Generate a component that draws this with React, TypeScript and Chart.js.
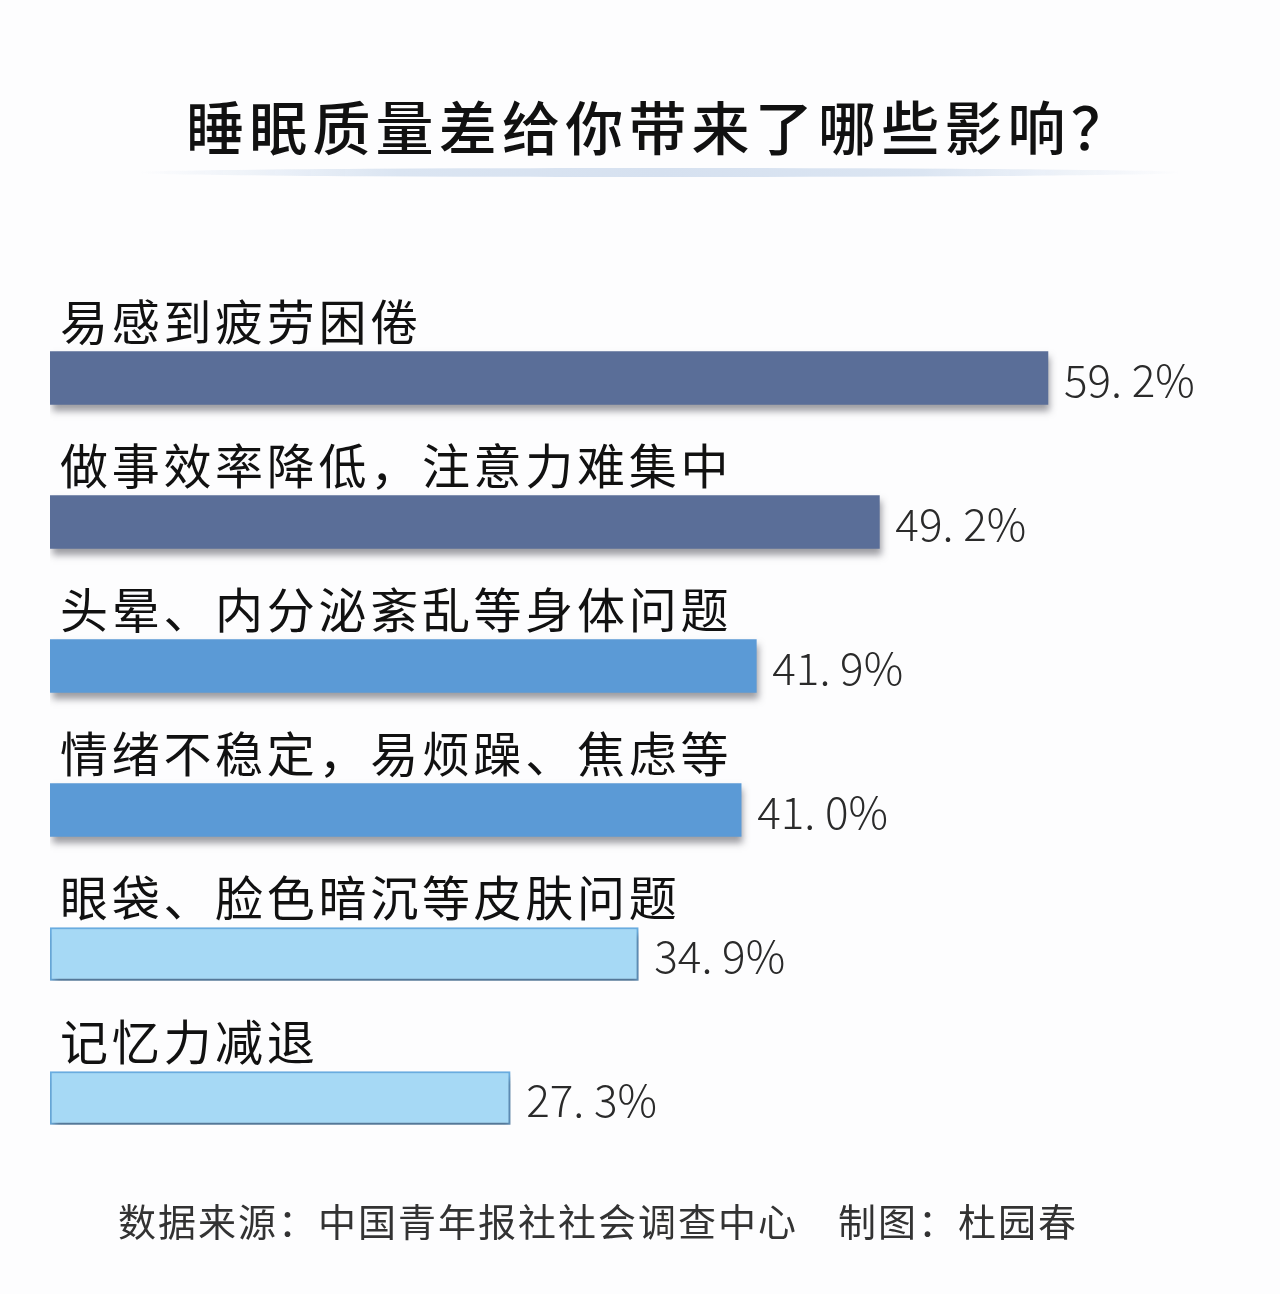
import { useEffect, useRef } from 'react';
import { Chart, registerables } from 'chart.js';

Chart.register(...registerables);

const categories = [
  '易感到疲劳困倦',
  '做事效率降低，注意力难集中',
  '头晕、内分泌紊乱等身体问题',
  '情绪不稳定，易烦躁、焦虑等',
  '眼袋、脸色暗沉等皮肤问题',
  '记忆力减退',
];
const shares = [59.2, 49.2, 41.9, 41.0, 34.9, 27.3];
const barColors = ['#5a6e98', '#5a6e98', '#5b9ad6', '#5b9ad6', '#a6d9f5', '#a6d9f5'];
const barBorders = ['#5a6e98', '#5a6e98', '#5b9ad6', '#5b9ad6', '#6aaee2', '#6aaee2'];
const borderWidths = [0, 0, 0, 0, 2, 2];

const fmt = (v: number) => v.toFixed(1).replace('.', '. ') + '%';

const labelPlugin = {
  id: 'barLabels',
  beforeDatasetsDraw(chart: Chart) {
    const ctx = chart.ctx;
    ctx.save();
    ctx.shadowColor = 'rgba(60,60,70,0.5)';
    ctx.shadowBlur = 7;
    ctx.shadowOffsetX = 2;
    ctx.shadowOffsetY = 6;
  },
  afterDatasetsDraw(chart: Chart) {
    const ctx = chart.ctx;
    ctx.restore();
    const meta = chart.getDatasetMeta(0);
    ctx.save();
    meta.data.forEach((bar: any, i: number) => {
      const { x, y, height } = bar.getProps(['x', 'y', 'height'], true);
      const top = y - height / 2;
      ctx.fillStyle = '#111';
      ctx.font = '48px "Noto Sans CJK SC", sans-serif';
      ctx.textAlign = 'left';
      ctx.textBaseline = 'alphabetic';
      (ctx as any).letterSpacing = '3.7px';
      ctx.fillText(categories[i], 60, top - 12);
      ctx.fillStyle = '#2a2a2a';
      ctx.font = '300 44px "Noto Sans CJK SC", sans-serif';
      (ctx as any).letterSpacing = '0px';
      ctx.textBaseline = 'middle';
      ctx.fillText(fmt(shares[i]), x + 16, y + 2);
    });
    ctx.restore();
  },
};

export default function App() {
  const canvasRef = useRef<HTMLCanvasElement>(null);
  const chart = useRef<Chart | null>(null);

  useEffect(() => {
    document.body.style.margin = '0';
    if (!canvasRef.current) return;
    chart.current?.destroy();

    chart.current = new Chart(canvasRef.current, {
      type: 'bar',
      data: {
        labels: categories,
        datasets: [
          {
            data: shares,
            backgroundColor: barColors,
            borderColor: barBorders,
            borderWidth: borderWidths,
            borderSkipped: false,
            barThickness: 53,
          },
        ],
      },
      options: {
        indexAxis: 'y',
        animation: false,
        responsive: true,
        maintainAspectRatio: false,
        layout: { padding: { left: 50, right: 50, top: 306, bottom: 124 } },
        plugins: { legend: { display: false }, tooltip: { enabled: false } },
        scales: {
          x: { min: 0, max: 70, display: false },
          y: { display: false },
        },
      },
      plugins: [labelPlugin],
    });

    return () => { chart.current?.destroy(); };
  }, []);

  return (
    <div style={{ position: 'relative', width: 1280, height: 1294, background: '#fdfdfe', overflow: 'hidden' }}>
      <div style={{ position: 'absolute', left: 0, top: 0, width: 1280, height: 1294 }}>
        <canvas ref={canvasRef} />
      </div>
      <div style={{
        position: 'absolute', left: 20, top: 85, width: 1280, textAlign: 'center',
        fontFamily: '"Noto Sans CJK SC", sans-serif', fontSize: 58, fontWeight: 500,
        letterSpacing: 5.2, color: '#111', lineHeight: '80px',
      }}>
        睡眠质量差给你带来了哪些影响？
      </div>
      <div style={{
        position: 'absolute', left: 135, top: 168, width: 1050, height: 9, borderRadius: '50%',
        background: 'linear-gradient(90deg, rgba(220,230,243,0) 0%, #dbe5f2 25%, #d6e1f0 50%, #dbe5f2 75%, rgba(220,230,243,0) 100%)',
      }} />
      <div style={{
        position: 'absolute', left: 118, top: 1195, whiteSpace: 'nowrap',
        fontFamily: '"Noto Sans CJK SC", sans-serif', fontSize: 38, letterSpacing: 2,
        color: '#333', lineHeight: '50px',
      }}>
        数据来源：中国青年报社社会调查中心　制图：杜园春
      </div>
    </div>
  );
}
